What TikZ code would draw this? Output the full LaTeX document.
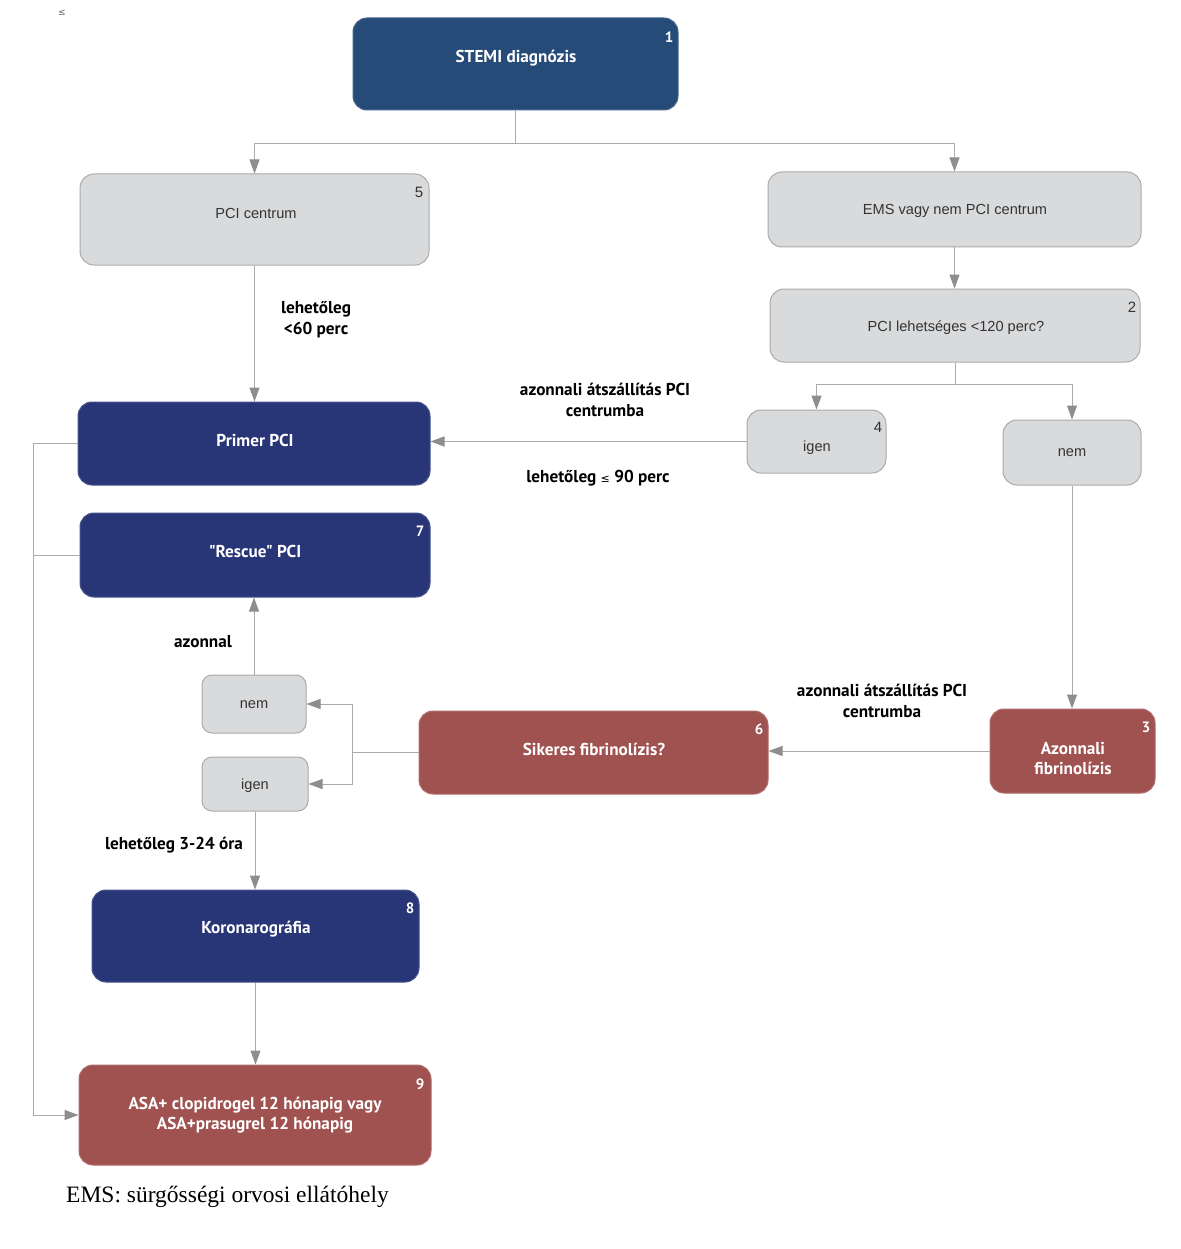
\documentclass[tikz,border=0pt]{standalone}
\usepackage{fontspec}
\setmainfont{Liberation Sans}
\newfontfamily\boldf{PT Sans}
\newfontfamily\serf{Liberation Serif}
\newfontfamily\dejav{DejaVu Sans}
\usetikzlibrary{arrows.meta}
\definecolor{stemi}{HTML}{274B78}
\definecolor{navy}{HTML}{283577}
\definecolor{brick}{HTML}{A05250}
\definecolor{lgray}{HTML}{D9DADC}
\definecolor{edgec}{HTML}{ABABAB}
\definecolor{tipc}{HTML}{8E8E8E}
\definecolor{txtc}{HTML}{333333}
\tikzset{
  boxbase/.style={rounded corners=14pt, inner sep=0pt, line width=1pt},
  darkbox/.style={boxbase, fill=#1, draw=#1!85!white},
  graybox/.style={boxbase, fill=lgray, draw=edgec},
  wtext/.style={text=white, font=\boldf\bfseries\fontsize{17.2}{20}\selectfont, align=center, inner sep=0pt},
  gtext/.style={text=txtc, font=\fontsize{14.6}{18}\selectfont, align=center, inner sep=0pt},
  wnum/.style={text=white, font=\boldf\bfseries\fontsize{15}{15}\selectfont, inner sep=0pt},
  gnum/.style={text=txtc, font=\fontsize{15}{15}\selectfont, inner sep=0pt},
  lbl/.style={text=black, font=\boldf\bfseries\fontsize{17.2}{21}\selectfont, align=center, inner sep=0pt},
  conn/.style={draw=edgec, line width=1pt},
  arr/.style={conn, -{Triangle[length=14pt,width=10pt,fill=tipc,color=tipc]}},
}
\begin{document}
\begin{tikzpicture}[x=1pt,y=-1pt]
\useasboundingbox (0,0) rectangle (1180,1249);
\fill[white] (0,0) rectangle (1180,1249);
% stray mark
\node[text=black!60, font=\dejav\fontsize{9}{9}\selectfont, inner sep=0pt] (mark) at (62,13) {≤};
% boxes
\node[darkbox=stemi, minimum width=325pt, minimum height=92pt] (stemi) at (515.5,64) {};
\node[graybox, minimum width=349pt, minimum height=91pt] (pcic) at (254.5,219.5) {};
\node[graybox, minimum width=373pt, minimum height=75pt] (ems) at (954.5,209.5) {};
\node[graybox, minimum width=370pt, minimum height=73pt] (q2) at (955,325.5) {};
\node[graybox, minimum width=139pt, minimum height=63pt] (igenR) at (816.5,441.5) {};
\node[graybox, minimum width=138pt, minimum height=65pt] (nemR) at (1072,452.5) {};
\node[darkbox=navy, minimum width=352pt, minimum height=83pt] (primer) at (254,443.5) {};
\node[darkbox=navy, minimum width=350pt, minimum height=84pt] (rescue) at (255,555) {};
\node[graybox, rounded corners=10pt, minimum width=104pt, minimum height=58pt] (nemL) at (254,704) {};
\node[graybox, rounded corners=10pt, minimum width=106pt, minimum height=54pt] (igenL) at (255,784) {};
\node[darkbox=brick, minimum width=349pt, minimum height=83pt] (sikeres) at (593.5,752.5) {};
\node[darkbox=brick, minimum width=165pt, minimum height=84pt] (azon) at (1072.5,751) {};
\node[darkbox=navy, minimum width=327pt, minimum height=92pt] (korona) at (255.5,936) {};
\node[darkbox=brick, minimum width=352pt, minimum height=100pt] (asa) at (255,1115) {};
% box texts
\node[wtext] (t1) at (516,58) {STEMI diagnózis};
\node[wnum] (n1) at (669,37) {1};
\node[gtext] (t5) at (256,213) {PCI centrum};
\node[gnum] (n5) at (419,192) {5};
\node[gtext] (tems) at (955,211) {EMS vagy nem PCI centrum};
\node[gtext] (t2) at (956,328) {PCI lehetséges <120 perc?};
\node[gnum] (n2) at (1132,307) {2};
\node[gtext] (t4) at (817,448) {igen};
\node[gnum] (n4) at (878,427) {4};
\node[gtext] (tnemR) at (1072,453) {nem};
\node[wtext] (tprimer) at (255,440) {Primer PCI};
\node[wtext] (trescue) at (255,551) {"Rescue" PCI};
\node[wnum] (n7) at (420,531) {7};
\node[gtext] (tnemL) at (254,705) {nem};
\node[gtext] (tigenL) at (255,786) {igen};
\node[wtext] (t6) at (594,749) {Sikeres fibrinolízis?};
\node[wnum] (n6) at (759,729) {6};
\node[wtext] (t3) at (1073,758) {Azonnali\\fibrinolízis};
\node[wnum] (n3) at (1146,727) {3};
\node[wtext] (t8) at (256,929) {Koronarográfia};
\node[wnum] (n8) at (410,908) {8};
\node[wtext] (t9) at (255,1115.5) {ASA+ clopidrogel 12 hónapig vagy\\ASA+prasugrel 12 hónapig};
\node[wnum] (n9) at (420,1084) {9};
% edge labels
\node[lbl] (l60) at (316,320) {lehetőleg\\<60 perc};
\node[lbl] (ltr1) at (605,400) {azonnali átszállítás PCI\\centrumba};
\node[lbl] (l90) at (598,478) {lehetőleg {\dejav\mdseries\fontsize{11}{11}\selectfont ≤} 90 perc};
\node[lbl] (ltr2) at (882,701) {azonnali átszállítás PCI\\centrumba};
\node[lbl] (lazon) at (203,642) {azonnal};
\node[lbl] (l324) at (174,845) {lehetőleg 3-24 óra};
% footnote
\node[anchor=west, font=\serf\fontsize{23.5}{26}\selectfont, inner sep=0pt] (foot) at (66,1197) {EMS: sürgősségi orvosi ellátóhely};
% connectors
\coordinate (split1) at (515.5,144);
\draw[conn] (stemi.south) -- (split1);
\draw[arr] (split1) -| (pcic.north);
\draw[arr] (split1) -| (ems.north);
\draw[arr] (pcic.south) -- (pcic.south |- primer.north);
\draw[arr] (ems.south) -- (ems.south |- q2.north);
\coordinate (split2) at (955,384);
\draw[conn] (q2.south) -- (split2);
\draw[arr] (split2) -| (igenR.north);
\draw[arr] (split2) -| (nemR.north);
\draw[arr] (igenR.west) -- (igenR.west -| primer.east);
\draw[arr] (nemR.south) -- (nemR.south |- azon.north);
\draw[arr] (azon.west) -- (azon.west -| sikeres.east);
\coordinate (split3) at (352,752.5);
\draw[conn] (sikeres.west) -- (split3);
\draw[arr] (split3) |- (nemL.east);
\draw[arr] (split3) |- (igenL.east);
\draw[arr] (nemL.north) -- (nemL.north |- rescue.south);
\draw[arr] (igenL.south) -- (igenL.south |- korona.north);
\draw[arr] (korona.south) -- (korona.south |- asa.north);
\coordinate (bus) at (33,443.5);
\draw[conn] (primer.west) -- (bus);
\draw[conn] (rescue.west) -- (rescue.west -| bus);
\draw[arr] (bus) |- (asa.west);
\end{tikzpicture}
\end{document}
